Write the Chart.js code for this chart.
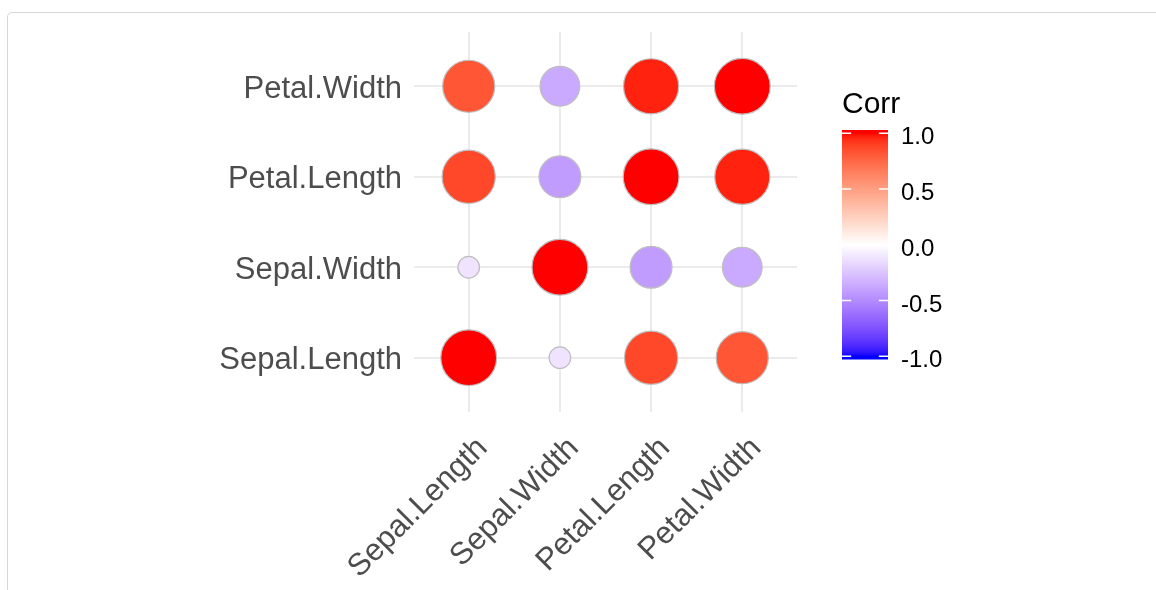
<!DOCTYPE html>
<html>
<head>
<meta charset="utf-8">
<script src="https://cdn.jsdelivr.net/npm/chart.js@4/dist/chart.umd.min.js"></script>
<style>
  html, body { margin: 0; padding: 0; background: #ffffff; }
  body { width: 1156px; height: 590px; position: relative; overflow: hidden; }
  .card {
    position: absolute; left: 7px; top: 12px; width: 1200px; height: 640px;
    border: 1px solid #d6d6d6; border-radius: 5px; box-sizing: border-box;
  }
  #wrap { position: absolute; left: 0; top: 0; width: 1156px; height: 590px; }
</style>
</head>
<body>
<div class="card"></div>
<div id="wrap"><canvas id="corr" width="1156" height="590"></canvas></div>
<script>
// Variables of the iris measurements, bottom-to-top on y and left-to-right on x
const variables = ['Sepal.Length', 'Sepal.Width', 'Petal.Length', 'Petal.Width'];

// Pearson correlation of each variable with every variable (same order as `variables`)
const corrSepalLength = [1.000, -0.118, 0.872, 0.818];
const corrSepalWidth  = [-0.118, 1.000, -0.428, -0.366];
const corrPetalLength = [0.872, -0.428, 1.000, 0.963];
const corrPetalWidth  = [0.818, -0.366, 0.963, 1.000];

// Colour bar breaks and their labels
const legendBreaks = [1, 0.5, 0, -0.5, -1];
const legendLabels = ['1.0', '0.5', '0.0', '-0.5', '-1.0'];
const legendTitle = 'Corr';

const corrRows = [corrSepalLength, corrSepalWidth, corrPetalLength, corrPetalWidth];

// ---- colour scale: blue -> white -> red, interpolated in CIE Lab ----
function srgbToLab(hex) {
  const c = [1, 3, 5].map(i => parseInt(hex.substr(i, 2), 16) / 255)
    .map(v => v <= 0.04045 ? v / 12.92 : Math.pow((v + 0.055) / 1.055, 2.4));
  const X = (0.4124564 * c[0] + 0.3575761 * c[1] + 0.1804375 * c[2]) / 0.95047;
  const Y = (0.2126729 * c[0] + 0.7151522 * c[1] + 0.0721750 * c[2]);
  const Z = (0.0193339 * c[0] + 0.1191920 * c[1] + 0.9503041 * c[2]) / 1.08883;
  const f = t => t > 0.008856 ? Math.cbrt(t) : 7.787 * t + 16 / 116;
  const fx = f(X), fy = f(Y), fz = f(Z);
  return [116 * fy - 16, 500 * (fx - fy), 200 * (fy - fz)];
}
function labToRgb(lab) {
  const fy = (lab[0] + 16) / 116, fx = fy + lab[1] / 500, fz = fy - lab[2] / 200;
  const inv = f => { const f3 = f * f * f; return f3 > 0.008856 ? f3 : (f - 16 / 116) / 7.787; };
  const X = inv(fx) * 0.95047, Y = inv(fy), Z = inv(fz) * 1.08883;
  let r = 3.2404542 * X - 1.5371385 * Y - 0.4985314 * Z;
  let g = -0.9692660 * X + 1.8760108 * Y + 0.0415560 * Z;
  let b = 0.0556434 * X - 0.2040259 * Y + 1.0572252 * Z;
  const gam = v => {
    v = v <= 0.0031308 ? 12.92 * v : 1.055 * Math.pow(v, 1 / 2.4) - 0.055;
    return Math.round(Math.min(1, Math.max(0, v)) * 255);
  };
  return `rgb(${gam(r)},${gam(g)},${gam(b)})`;
}
const LAB_LOW = srgbToLab('#0000FF');
const LAB_MID = srgbToLab('#FFFFFF');
const LAB_HIGH = srgbToLab('#FF0000');
function corrColour(v) {
  const t = Math.min(1, Math.abs(v));
  const end = v >= 0 ? LAB_HIGH : LAB_LOW;
  return labToRgb(LAB_MID.map((m, k) => m + (end[k] - m) * t));
}

// ---- size scale: area proportional to |corr|, diameter between 4 and 10 units ----
const absAll = corrRows.flat().map(Math.abs);
const absMin = Math.min(...absAll), absMax = Math.max(...absAll);
const PX_PER_UNIT = 2.85;
function corrRadius(v) {
  const t = (Math.abs(v) - absMin) / (absMax - absMin);
  return PX_PER_UNIT * (4 + 6 * Math.sqrt(t)) - 0.6;
}

// One bubble per (x variable, y variable) pair
const points = [];
variables.forEach((_, yi) => {
  variables.forEach((__, xi) => {
    points.push({ x: xi + 1, y: yi + 1, v: corrRows[yi][xi] });
  });
});

const FONT = "'Liberation Sans', Arial, Helvetica, sans-serif";

const categoryTicks = scale => {
  scale.ticks = variables.map((_, i) => ({ value: i + 1 }));
};

// Colour bar legend drawn beside the plot area
const colourBar = {
  id: 'colourBar',
  afterDraw(chart) {
    const ctx = chart.ctx;
    const x0 = 842, w = 46, top = 130, bottom = 359.5, inset = 3.3;
    const yFor = v => top + inset + (1 - (v + 1) / 2) * (bottom - top - 2 * inset);
    ctx.save();
    for (let y = top; y < bottom; y += 1) {
      const v = 1 - 2 * ((y + 0.5 - top - inset) / (bottom - top - 2 * inset));
      ctx.fillStyle = corrColour(Math.max(-1, Math.min(1, v)));
      ctx.fillRect(x0, y, w, Math.min(1, bottom - y));
    }
    ctx.strokeStyle = '#ffffff';
    ctx.lineWidth = 1.5;
    legendBreaks.forEach(b => {
      const y = yFor(b);
      ctx.beginPath();
      ctx.moveTo(x0, y); ctx.lineTo(x0 + w / 5, y);
      ctx.moveTo(x0 + w - w / 5, y); ctx.lineTo(x0 + w, y);
      ctx.stroke();
    });
    ctx.fillStyle = '#000000';
    ctx.textAlign = 'left';
    ctx.textBaseline = 'middle';
    ctx.font = `24px ${FONT}`;
    legendBreaks.forEach((b, i) => ctx.fillText(legendLabels[i], 901, yFor(b) + 4.5));
    ctx.textBaseline = 'alphabetic';
    ctx.font = `30px ${FONT}`;
    ctx.fillText(legendTitle, 842, 113);
    ctx.restore();
  }
};

new Chart(document.getElementById('corr'), {
  type: 'bubble',
  data: {
    datasets: [{
      data: points,
      backgroundColor: ctx => corrColour(ctx.raw.v),
      borderColor: '#BEBEBE',
      borderWidth: 1.2,
      radius: ctx => corrRadius(ctx.raw.v),
      hoverRadius: 0
    }]
  },
  options: {
    responsive: false,
    animation: false,
    events: [],
    layout: { padding: { left: 0, top: 32, right: 1156 - 797, bottom: 0 } },
    plugins: { legend: { display: false }, tooltip: { enabled: false } },
    scales: {
      x: {
        type: 'linear',
        min: 0.4, max: 4.6,
        afterBuildTicks: categoryTicks,
        afterFit: s => { s.height = 590 - 412; },
        grid: { color: '#EBEBEB', lineWidth: 2, drawTicks: false },
        border: { display: false },
        ticks: {
          autoSkip: false,
          minRotation: 45, maxRotation: 45,
          padding: 18,
          labelOffset: 14,
          color: '#4D4D4D',
          font: { family: FONT, size: 31 },
          callback: v => variables[v - 1]
        }
      },
      y: {
        type: 'linear',
        min: 0.4, max: 4.6,
        afterBuildTicks: categoryTicks,
        afterFit: s => { s.width = 414; },
        grid: { color: '#EBEBEB', lineWidth: 2, drawTicks: false },
        border: { display: false },
        ticks: {
          autoSkip: false,
          padding: 12,
          labelOffset: 3,
          color: '#4D4D4D',
          font: { family: FONT, size: 31 },
          callback: v => variables[v - 1]
        }
      }
    }
  },
  plugins: [colourBar]
});
</script>
</body>
</html>
